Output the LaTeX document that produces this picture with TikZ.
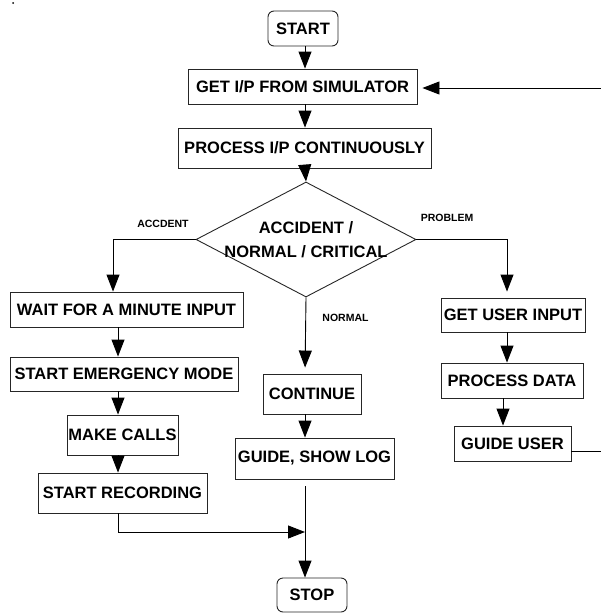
\documentclass[tikz,border=0pt]{standalone}
\usepackage{fontspec}
\setmainfont{Liberation Sans}
\usetikzlibrary{arrows.meta,shapes.geometric,calc}
\begin{document}
\begin{tikzpicture}[x=1pt,y=-1pt,
  box/.style={draw=black!85, line width=0.9pt, inner sep=0pt, font=\fontsize{16.5}{19}\bfseries\selectfont},
  term/.style={box, rounded corners=6pt},
  lbl/.style={font=\fontsize{10.5}{12}\bfseries\selectfont},
  arr/.style={line width=0.9pt, -{Triangle[length=17pt,width=13pt]}},
  ln/.style={line width=0.9pt}]
\useasboundingbox (0,0) rectangle (600,613);
\fill (13,3) circle (1pt);
% coordinates for connector columns
\coordinate (col) at (305,0);
\coordinate (lc) at (118,0);
\coordinate (acc) at (113,0);
\coordinate (rc) at (507,0);
\coordinate (rc2) at (503,0);
\coordinate (join) at (305,532);
\coordinate (fb1) at (0,451);
\coordinate (fb2) at (0,88);
\coordinate (fbx) at (620,0);
% nodes
\node[term, minimum width=70pt, minimum height=35pt] (start) at (303,28.5) {START};
\node[box, minimum width=229pt, minimum height=35pt] (get) at (302.5,86.5) {GET I/P FROM SIMULATOR};
\node[box, minimum width=253pt, minimum height=40pt] (proc) at (304.5,148) {PROCESS I/P CONTINUOUSLY};
\node[draw=black!85, line width=0.9pt, diamond, minimum width=220pt, minimum height=115pt, inner sep=0pt] (dec) at (306,239.5) {};
\node[align=center, inner sep=0pt, font=\fontsize{16.5}{24}\bfseries\selectfont] (dect) at (306,240) {ACCIDENT /\\NORMAL / CRITICAL};
\node[box, minimum width=233pt, minimum height=35pt] (wait) at (126.5,309.5) {WAIT FOR A MINUTE INPUT};
\node[box, minimum width=228pt, minimum height=34pt] (em) at (124,374) {START EMERGENCY MODE};
\node[box, minimum width=111pt, minimum height=40pt] (calls) at (122.5,435) {MAKE CALLS};
\node[box, minimum width=169pt, minimum height=40pt] (rec) at (122.5,493) {START RECORDING};
\node[box, minimum width=98pt, minimum height=40pt] (cont) at (312,394) {CONTINUE};
\node[box, minimum width=159pt, minimum height=41pt] (guide) at (314.5,458.5) {GUIDE, SHOW LOG};
\node[term, minimum width=70pt, minimum height=34pt] (stop) at (312,595) {STOP};
\node[box, minimum width=144pt, minimum height=34pt] (gui) at (513,315) {GET USER INPUT};
\node[box, minimum width=142pt, minimum height=35pt] (pdata) at (512,380.5) {PROCESS DATA};
\node[box, minimum width=117pt, minimum height=35pt] (guser) at (512.5,443.5) {GUIDE USER};
% labels
\node[lbl] (lacc) at (163,224) {ACCDENT};
\node[lbl] (lnorm) at (345.5,318) {NORMAL};
\node[lbl] (lprob) at (447,218) {PROBLEM};
% connectors
\draw[arr] (start.south -| col) -- (get.north -| col);
\draw[arr] (get.south -| col) -- (proc.north -| col);
\draw[arr] (proc.south -| col) -- (dec.north);
\draw[arr] (dec.west) -| (wait.north -| acc);
\draw[arr] (wait.south -| lc) -- (em.north -| lc);
\draw[arr] (em.south -| lc) -- (calls.north -| lc);
\draw[arr] (calls.south -| lc) -- (rec.north -| lc);
\draw[arr] (rec.south -| lc) |- (join);
\draw[arr, shorten >=6pt] (dec.south) -- (cont.north -| col);
\draw[arr] (cont.south -| col) -- (guide.north -| col);
\draw[arr, shorten <=7pt] (guide.south -| col) -- (stop.north -| col);
\draw[arr, shorten >=6pt] (dec.east) -| (gui.north -| rc);
\draw[arr] (gui.south -| rc) -- (pdata.north -| rc);
\draw[arr] (pdata.south -| rc2) -- (guser.north -| rc2);
\draw[arr, shorten >=5pt] (guser.east |- fb1) -- (fbx |- fb1) -- (fbx |- fb2) -- (get.east |- fb2);
\end{tikzpicture}
\end{document}
